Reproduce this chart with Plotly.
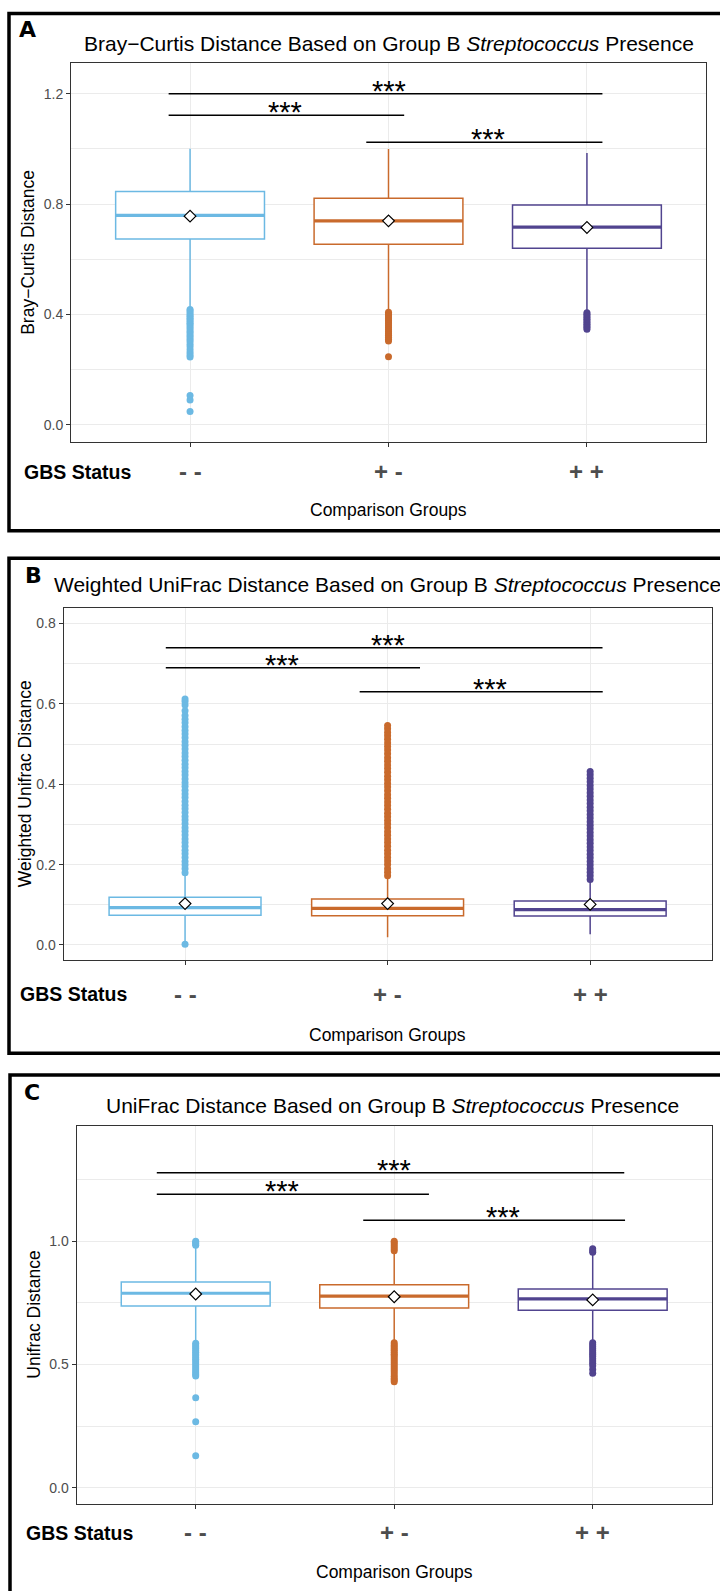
import plotly.graph_objects as go

W, H = 720, 1591
FONT = "Liberation Sans, Arial, Helvetica, sans-serif"
LETTER_FONT = "DejaVu Sans, Liberation Sans, Arial, sans-serif"

# ---------------- data ----------------
groups = ["- -", "+ -", "+ +"]
group_pos = [1, 2, 3]
colors = ["#6CB9E3", "#C96A2C", "#51448F"]
sig_labels = ["***", "***", "***"]

# Panel A : Bray-Curtis
bc_q1 = [0.673, 0.654, 0.640]
bc_median = [0.759, 0.739, 0.716]
bc_q3 = [0.845, 0.821, 0.796]
bc_mean = [0.756, 0.739, 0.715]
bc_lower = [0.425, 0.415, 0.412]
bc_upper = [1.000, 0.999, 0.985]
bc_out_nn = [0.418, 0.412, 0.405, 0.398, 0.392, 0.386, 0.380, 0.374, 0.368, 0.362,
             0.355, 0.348, 0.340, 0.333, 0.325, 0.318, 0.310, 0.302, 0.292, 0.283,
             0.272, 0.262, 0.253, 0.245, 0.106, 0.090, 0.048]
bc_out_pn = [0.408, 0.402, 0.396, 0.390, 0.384, 0.378, 0.372, 0.366, 0.359, 0.352,
             0.345, 0.338, 0.331, 0.324, 0.317, 0.310, 0.303, 0.246]
bc_out_pp = [0.406, 0.400, 0.394, 0.388, 0.382, 0.376, 0.370, 0.364, 0.358, 0.352, 0.346]
bc_sig_xmin = [0.892, 0.892, 1.888]
bc_sig_xmax = [2.079, 3.078, 3.078]
bc_sig_y = [1.122, 1.200, 1.024]
bc_sig_label_x = [1.477, 2.005, 2.503]

# Panel B : Weighted UniFrac
wu_q1 = [0.074, 0.073, 0.072]
wu_median = [0.093, 0.091, 0.088]
wu_q3 = [0.119, 0.1145, 0.1096]
wu_mean = [0.103, 0.103, 0.101]
wu_lower = [0.010, 0.019, 0.027]
wu_upper = [0.176, 0.168, 0.158]
wu_out_nn = [0.002, 0.180, 0.190, 0.199, 0.208, 0.218, 0.227, 0.236, 0.246, 0.255,
             0.264, 0.274, 0.283, 0.292, 0.302, 0.311, 0.320, 0.330, 0.339, 0.348,
             0.357, 0.367, 0.376, 0.385, 0.395, 0.404, 0.413, 0.423, 0.432, 0.441,
             0.450, 0.460, 0.469, 0.478, 0.488, 0.497, 0.506, 0.516, 0.525, 0.534,
             0.543, 0.553, 0.562, 0.571, 0.583, 0.597, 0.606, 0.612]
wu_out_pn = [0.172, 0.181, 0.190, 0.200, 0.209, 0.218, 0.227, 0.236, 0.246, 0.255,
             0.264, 0.273, 0.282, 0.292, 0.301, 0.310, 0.319, 0.328, 0.338, 0.347,
             0.356, 0.365, 0.374, 0.384, 0.393, 0.402, 0.411, 0.420, 0.430, 0.439,
             0.448, 0.457, 0.466, 0.476, 0.485, 0.494, 0.503, 0.512, 0.521, 0.529,
             0.538, 0.546]
wu_out_pp = [0.163, 0.172, 0.181, 0.190, 0.199, 0.208, 0.217, 0.226, 0.235, 0.244,
             0.253, 0.262, 0.271, 0.280, 0.289, 0.298, 0.307, 0.316, 0.325, 0.334,
             0.343, 0.352, 0.361, 0.370, 0.379, 0.388, 0.397, 0.406, 0.415, 0.424, 0.432]
wu_sig_xmin = [0.905, 0.905, 1.862]
wu_sig_xmax = [2.160, 3.061, 3.062]
wu_sig_y = [0.690, 0.7395, 0.630]
wu_sig_label_x = [1.478, 2.002, 2.506]

# Panel C : UniFrac
uf_q1 = [0.737, 0.729, 0.720]
uf_median = [0.789, 0.777, 0.766]
uf_q3 = [0.835, 0.824, 0.806]
uf_mean = [0.786, 0.775, 0.762]
uf_lower = [0.596, 0.596, 0.596]
uf_upper = [0.978, 0.958, 0.948]
uf_out_nn = [0.984, 0.990, 0.995, 1.000,
             0.586, 0.579, 0.572, 0.565, 0.557, 0.550, 0.543, 0.536, 0.528, 0.521,
             0.514, 0.506, 0.498, 0.490, 0.482, 0.474, 0.466, 0.459, 0.453,
             0.365, 0.268, 0.130]
uf_out_pn = [0.962, 0.970, 0.978, 0.986, 0.994, 1.000,
             0.588, 0.580, 0.573, 0.565, 0.558, 0.550, 0.542, 0.535, 0.527, 0.519,
             0.511, 0.503, 0.495, 0.487, 0.479, 0.470, 0.461, 0.452, 0.443, 0.437, 0.430]
uf_out_pp = [0.955, 0.962, 0.970,
             0.588, 0.580, 0.572, 0.564, 0.556, 0.548, 0.540, 0.532, 0.523, 0.514,
             0.505, 0.495, 0.480, 0.464]
uf_sig_xmin = [0.804, 0.804, 1.844]
uf_sig_xmax = [2.175, 3.159, 3.163]
uf_sig_y = [1.191, 1.278, 1.085]
uf_sig_label_x = [1.436, 2.000, 2.550]

titles = ["Bray\u2212Curtis Distance Based on Group B <i>Streptococcus</i> Presence",
          "Weighted UniFrac Distance Based on Group B <i>Streptococcus</i> Presence",
          "UniFrac Distance Based on Group B <i>Streptococcus</i> Presence"]
ytitles = ["Bray\u2212Curtis Distance", "Weighted Unifrac Distance", "Unifrac Distance"]
panel_letters = ["A", "B", "C"]
xtitle = "Comparison Groups"
status_title = "GBS Status"

panels_data = [
    dict(q1=bc_q1, med=bc_median, q3=bc_q3, mean=bc_mean, lo=bc_lower, hi=bc_upper,
         out=[bc_out_nn, bc_out_pn, bc_out_pp],
         sx0=bc_sig_xmin, sx1=bc_sig_xmax, sy=bc_sig_y, slx=bc_sig_label_x),
    dict(q1=wu_q1, med=wu_median, q3=wu_q3, mean=wu_mean, lo=wu_lower, hi=wu_upper,
         out=[wu_out_nn, wu_out_pn, wu_out_pp],
         sx0=wu_sig_xmin, sx1=wu_sig_xmax, sy=wu_sig_y, slx=wu_sig_label_x),
    dict(q1=uf_q1, med=uf_median, q3=uf_q3, mean=uf_mean, lo=uf_lower, hi=uf_upper,
         out=[uf_out_nn, uf_out_pn, uf_out_pp],
         sx0=uf_sig_xmin, sx1=uf_sig_xmax, sy=uf_sig_y, slx=uf_sig_label_x),
]

# ---------------- layout (pixel geometry) ----------------
panels_layout = [
    dict(px=(71, 706), py=(63.3, 441.7), yr=(-0.0616, 1.310), dt=0.4, mdt=0.2,
         title_xy=(389, 43.3), letter_xy=(27, 30), ytitle_x=28.3,
         gbs_xy=(22, 471.7), comp_y=510, border=(9, 13.5, 530.7)),
    dict(px=(63.5, 711.7), py=(608.3, 960), yr=(-0.0374, 0.838), dt=0.2, mdt=0.1,
         title_xy=(387.6, 585), letter_xy=(33, 575), ytitle_x=25,
         gbs_xy=(17.5, 994), comp_y=1035, border=(9, 558.3, 1053.3)),
    dict(px=(76.6, 711.8), py=(1125.7, 1504.3), yr=(-0.0674, 1.469), dt=0.5, mdt=0.25,
         title_xy=(393, 1105), letter_xy=(32, 1092.5), ytitle_x=33.7,
         gbs_xy=(24, 1532.5), comp_y=1571.7, border=(10, 1075, 1620)),
]

BOX_W = 0.75
GRID = "#EBEBEB"
AXC = "#333333"


def xp(p):
    return p / W


def yp(p):
    return 1 - p / H


fig = go.Figure()
annotations = []
shapes = []
layout_axes = {}

for k, (d, L) in enumerate(zip(panels_data, panels_layout)):
    sfx = "" if k == 0 else str(k + 1)
    xa, ya = "x" + sfx, "y" + sfx
    for i, g in enumerate(groups):
        xpos = group_pos[i]
        c = colors[i]
        fig.add_trace(go.Box(
            x=[xpos], q1=[d["q1"][i]], median=[d["med"][i]], q3=[d["q3"][i]],
            lowerfence=[d["lo"][i]], upperfence=[d["hi"][i]],
            width=BOX_W, whiskerwidth=0, fillcolor="white",
            line=dict(color=c, width=1.5), boxpoints=False,
            xaxis=xa, yaxis=ya, showlegend=False, hoverinfo="skip"))
        fig.add_trace(go.Scatter(
            x=[xpos - BOX_W / 2, xpos + BOX_W / 2], y=[d["med"][i], d["med"][i]],
            mode="lines", line=dict(color=c, width=3.2),
            xaxis=xa, yaxis=ya, showlegend=False, hoverinfo="skip"))
        fig.add_trace(go.Scatter(
            x=[xpos] * len(d["out"][i]), y=d["out"][i], mode="markers",
            marker=dict(color=c, size=7, line=dict(width=0)),
            xaxis=xa, yaxis=ya, showlegend=False, hoverinfo="skip"))
        fig.add_trace(go.Scatter(
            x=[xpos], y=[d["mean"][i]], mode="markers",
            marker=dict(symbol="diamond", size=9, color="white",
                        line=dict(color="black", width=1.2)),
            xaxis=xa, yaxis=ya, showlegend=False, hoverinfo="skip"))
    for j in range(len(d["sy"])):
        fig.add_trace(go.Scatter(
            x=[d["sx0"][j], d["sx1"][j]], y=[d["sy"][j], d["sy"][j]],
            mode="lines", line=dict(color="black", width=1.5),
            xaxis=xa, yaxis=ya, showlegend=False, hoverinfo="skip"))
        annotations.append(dict(
            x=d["slx"][j], y=d["sy"][j], xref=xa, yref=ya, text=sig_labels[j],
            showarrow=False, xanchor="center", yanchor="middle", yshift=3,
            font=dict(family=FONT, size=29, color="black")))

    layout_axes["xaxis" + sfx] = dict(
        domain=[xp(L["px"][0]), xp(L["px"][1])], anchor=ya, range=[0.4, 3.6],
        tickvals=group_pos, ticktext=["", "", ""], ticks="outside", ticklen=4,
        tickcolor=AXC, tickwidth=1, showgrid=True, gridcolor=GRID, gridwidth=1,
        zeroline=False, showline=True, mirror=True, linecolor=AXC, linewidth=1)
    layout_axes["yaxis" + sfx] = dict(
        domain=[yp(L["py"][1]), yp(L["py"][0])], anchor=xa, range=list(L["yr"]),
        tick0=0, dtick=L["dt"], tickformat=".1f", ticks="outside", ticklen=4,
        tickcolor=AXC, tickwidth=1,
        tickfont=dict(family=FONT, size=14, color="#4D4D4D"),
        showgrid=True, gridcolor=GRID, gridwidth=1,
        minor=dict(dtick=L["mdt"], tick0=0, showgrid=True, gridcolor=GRID,
                   gridwidth=0.6, ticks=""),
        zeroline=False, showline=True, mirror=True, linecolor=AXC, linewidth=1)

    annotations.append(dict(
        x=xp(L["title_xy"][0]), y=yp(L["title_xy"][1]), xref="paper", yref="paper",
        text=titles[k], showarrow=False, xanchor="center", yanchor="middle",
        font=dict(family=FONT, size=21, color="black")))
    annotations.append(dict(
        x=xp(L["letter_xy"][0]), y=yp(L["letter_xy"][1]), xref="paper", yref="paper",
        text="<b>" + panel_letters[k] + "</b>", showarrow=False, xanchor="center",
        yanchor="middle", font=dict(family=LETTER_FONT, size=22, color="black")))
    annotations.append(dict(
        x=xp(L["ytitle_x"]), y=yp((L["py"][0] + L["py"][1]) / 2), xref="paper",
        yref="paper", text=ytitles[k], textangle=-90, showarrow=False,
        xanchor="center", yanchor="middle",
        font=dict(family=FONT, size=17.5, color="black")))
    annotations.append(dict(
        x=xp(L["gbs_xy"][0]), y=yp(L["gbs_xy"][1]), xref="paper", yref="paper",
        text="<b>" + status_title + "</b>", showarrow=False, xanchor="left",
        yanchor="middle", font=dict(family=FONT, size=19.5, color="black")))
    for i, g in enumerate(groups):
        annotations.append(dict(
            x=group_pos[i], y=yp(L["gbs_xy"][1]), xref=xa, yref="paper",
            text="<b>" + g + "</b>", showarrow=False, xanchor="center",
            yanchor="middle", font=dict(family=FONT, size=24, color="#4D4D4D")))
    annotations.append(dict(
        x=xp((L["px"][0] + L["px"][1]) / 2), y=yp(L["comp_y"]), xref="paper",
        yref="paper", text=xtitle, showarrow=False, xanchor="center",
        yanchor="middle", font=dict(family=FONT, size=17.5, color="black")))

    bx, by0, by1 = L["border"]
    shapes.append(dict(type="rect", xref="paper", yref="paper",
                       x0=xp(bx), x1=1.05, y0=yp(by1), y1=yp(by0),
                       line=dict(color="black", width=3.5), fillcolor="rgba(0,0,0,0)"))

fig.update_layout(
    width=W, height=H, autosize=False,
    margin=dict(l=0, r=0, t=0, b=0),
    paper_bgcolor="white", plot_bgcolor="white",
    showlegend=False, boxmode="overlay",
    annotations=annotations, shapes=shapes,
    font=dict(family=FONT),
    **layout_axes)

fig.write_html("out.html")
